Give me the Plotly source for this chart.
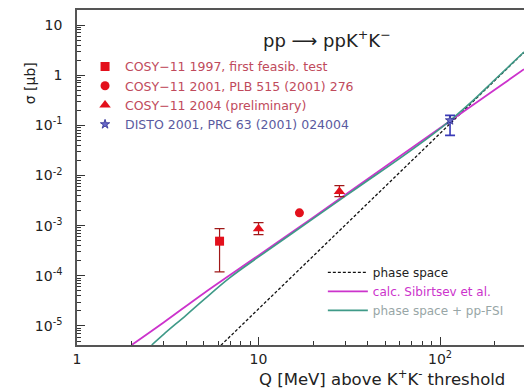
import numpy as np
import plotly.graph_objects as go

# ---- data ----
# experimental points: Q [MeV], sigma [ub], upper/lower errors
cosy97_q = [6.1]
cosy97_s = [4.9e-4]
cosy97_up = [3.8e-4]
cosy97_dn = [3.7e-4]

cosy01_q = [16.8]
cosy01_s = [1.8e-3]

cosy04_q = [10.0, 27.9]
cosy04_s = [8.7e-4, 4.8e-3]
cosy04_up = [2.8e-4, 1.5e-3]
cosy04_dn = [2.1e-4, 1.0e-3]

disto_q = [113.5]
disto_s = [0.126]
disto_up = [0.032]
disto_dn = [0.063]

# curves
ps_q = [6.2, 10, 20, 50, 100, 200, 290]
ps_s = [4.1e-6, 2.19e-5, 2.48e-4, 6.1e-3, 6.9e-2, 0.785, 2.87]

sib_q = [2.0, 3, 5, 10, 20, 50, 114, 200, 290]
sib_s = [4.17e-6, 1.17e-5, 4.5e-5, 2.55e-4, 1.46e-3, 1.51e-2, 0.123, 0.51, 1.32]

fsi_q = [2.58, 3, 4, 5, 6.9, 10, 20, 35, 60, 90, 114, 150, 200, 290]
fsi_s = [4.17e-6, 6.8e-6, 1.65e-5, 3.35e-5, 9.0e-5, 2.38e-4, 1.38e-3, 5.7e-3,
         2.2e-2, 6.4e-2, 0.126, 0.30, 0.81, 2.9]

x_tickvals = [1, 10, 100]
x_ticktext = ["1", "10", "10<sup>2</sup>"]
y_tickvals = [1e-5, 1e-4, 1e-3, 1e-2, 1e-1, 1, 10]
y_ticktext = ["10<sup>-5</sup>", "10<sup>-4</sup>", "10<sup>-3</sup>", "10<sup>-2</sup>",
              "10<sup>-1</sup>", "1", "10"]

RED = "#e3101c"
ERR = "#a01818"
TXT_RED = "#c04a5c"
FONT = "DejaVu Sans"

fig = go.Figure()

# curves (legend2, bottom right)
fig.add_trace(go.Scatter(x=ps_q, y=ps_s, mode="lines",
                         line=dict(color="#111111", width=1.3, dash="3px,2px"),
                         name="<span style='color:#222222'>phase space</span>",
                         legend="legend2"))
fig.add_trace(go.Scatter(x=sib_q, y=sib_s, mode="lines", line_shape="spline",
                         line=dict(color="#cc33cc", width=1.8),
                         name="<span style='color:#cc33cc'>calc. Sibirtsev et al.</span>",
                         legend="legend2"))
fig.add_trace(go.Scatter(x=fsi_q, y=fsi_s, mode="lines", line_shape="spline",
                         line=dict(color="#3f9a88", width=1.6),
                         name="<span style='color:#98a6a6'>phase space + pp-FSI</span>",
                         legend="legend2"))

# data points (legend, top left)
fig.add_trace(go.Scatter(x=cosy97_q, y=cosy97_s, mode="markers",
                         marker=dict(symbol="square", size=9, color=RED),
                         error_y=dict(type="data", array=cosy97_up, arrayminus=cosy97_dn,
                                      color=ERR, thickness=1.2, width=5),
                         name=f"<span style='color:{TXT_RED}'>COSY\u221211 1997, first feasib. test</span>"))
fig.add_trace(go.Scatter(x=cosy01_q, y=cosy01_s, mode="markers",
                         marker=dict(symbol="circle", size=9, color=RED),
                         name=f"<span style='color:{TXT_RED}'>COSY\u221211 2001, PLB 515 (2001) 276</span>"))
fig.add_trace(go.Scatter(x=cosy04_q, y=cosy04_s, mode="markers",
                         marker=dict(symbol="triangle-up", size=10, color=RED),
                         error_y=dict(type="data", array=cosy04_up, arrayminus=cosy04_dn,
                                      color=ERR, thickness=1.2, width=5),
                         name=f"<span style='color:{TXT_RED}'>COSY\u221211 2004 (preliminary)</span>"))
fig.add_trace(go.Scatter(x=disto_q, y=disto_s, mode="markers",
                         marker=dict(symbol="star", size=7, color="#6a6ac8",
                                     line=dict(color="#2a2a90", width=0.8)),
                         error_y=dict(type="data", array=disto_up, arrayminus=disto_dn,
                                      color="#3a3ab8", thickness=1.6, width=5),
                         name="<span style='color:#5a5aa0'>DISTO 2001, PRC 63 (2001) 024004</span>"))

minor_x = [v * d for d in (1, 10, 100) for v in range(2, 10) if v * d < 300]
minor_y = [v * 10.0 ** e for e in range(-6, 2) for v in range(2, 10)]

fig.update_layout(
    width=524, height=392,
    margin=dict(l=77, r=0, t=10, b=47),
    paper_bgcolor="white", plot_bgcolor="white",
    font=dict(family=FONT, size=13, color="#222222"),
    showlegend=True,
    legend=dict(x=0.018, y=0.875, xanchor="left", yanchor="top",
                bgcolor="rgba(0,0,0,0)", font=dict(size=12.5, family=FONT),
                tracegroupgap=0, itemwidth=30, traceorder="normal"),
    legend2=dict(x=0.55, y=0.26, xanchor="left", yanchor="top",
                 bgcolor="rgba(0,0,0,0)", font=dict(size=12, family=FONT),
                 itemwidth=40, traceorder="normal"),
    xaxis=dict(type="log", range=[0, np.log10(290)],
               tickmode="array", tickvals=x_tickvals, ticktext=x_ticktext,
               ticks="inside", ticklen=8, tickwidth=1, tickcolor="#333333",
               showline=True, linecolor="#555555", linewidth=1.5, mirror=True,
               showgrid=False, zeroline=False,
               tickfont=dict(size=14, family=FONT, color="#222222"),
               minor=dict(tickmode="array", tickvals=minor_x, ticks="inside",
                          ticklen=4, tickcolor="#333333", showgrid=False)),
    yaxis=dict(type="log", range=[-5.38, 1.3],
               tickmode="array", tickvals=y_tickvals, ticktext=y_ticktext,
               ticks="inside", ticklen=8, tickwidth=1, tickcolor="#333333",
               showline=True, linecolor="#555555", linewidth=1.5, mirror=False,
               showgrid=False, zeroline=False, ticklabelstandoff=10,
               tickfont=dict(size=14, family=FONT, color="#222222"),
               minor=dict(tickmode="array", tickvals=minor_y, ticks="inside",
                          ticklen=4, tickcolor="#333333", showgrid=False)),
    annotations=[
        dict(text="pp \u27f6 ppK<sup>+</sup>K<sup>\u2212</sup>", xref="paper", yref="paper",
             x=0.56, y=0.955, xanchor="center", showarrow=False,
             font=dict(size=18, family=FONT, color="#222222")),
        dict(text="\u03c3 [\u03bcb]", xref="paper", yref="paper", textangle=-90,
             x=-0.105, y=0.85, xanchor="center", showarrow=False,
             font=dict(size=14, family=FONT, color="#222222")),
        dict(text="Q [MeV] above K<sup>+</sup>K<sup>-</sup> threshold", xref="paper", yref="paper",
             x=0.682, y=-0.098, xanchor="center", yanchor="middle", showarrow=False,
             font=dict(size=16.5, family=FONT, color="#222222")),
    ],
)

fig.write_html("out.html")
